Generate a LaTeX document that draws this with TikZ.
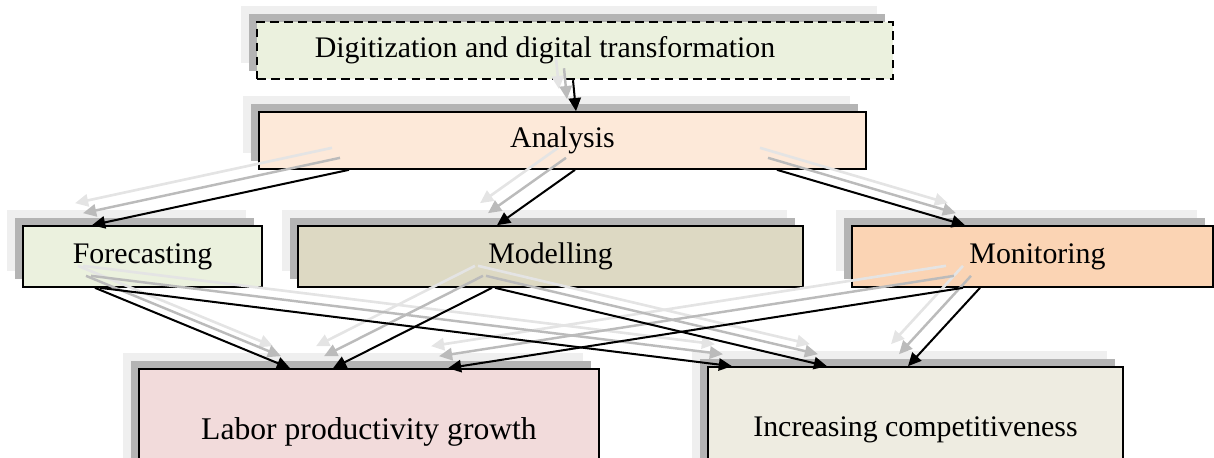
\documentclass[tikz,border=0pt]{standalone}
\usepackage{fontspec}
\setmainfont{Liberation Serif}
\usetikzlibrary{arrows.meta,calc,shadows}
\definecolor{greenBox}{HTML}{EBF1DE}
\definecolor{peachBox}{HTML}{FDE9D9}
\definecolor{tanBox}{HTML}{DDD9C3}
\definecolor{orangeBox}{HTML}{FBD4B4}
\definecolor{roseBox}{HTML}{F2DBDB}
\definecolor{greyBox}{HTML}{EEECE1}
\definecolor{shadowDark}{HTML}{B4B4B4}
\definecolor{shadowLight}{HTML}{EFEFEF}
\definecolor{edgeGreyDark}{HTML}{BBBBBB}
\definecolor{edgeGreyLight}{HTML}{E4E4E4}

\begin{document}
\begin{tikzpicture}[x=0.02cm, y=-0.02cm,
        every node/.style={font=\fontsize{17}{20}\selectfont}]
        \tikzstyle{boxStyle} = [draw=black, line width=0.95pt, inner sep=0pt,
            general shadow={fill=shadowLight, shadow xshift=-0.32cm, shadow yshift=0.32cm},
            general shadow={fill=shadowDark, shadow xshift=-0.16cm, shadow yshift=0.16cm}]
        \tikzstyle{edgeLight} = [draw=edgeGreyLight, line width=1.5pt, -{Triangle[length=7.5pt,width=7pt]}]
        \tikzstyle{edgeDark} = [draw=edgeGreyDark, line width=1.4pt, -{Triangle[length=7.5pt,width=7pt]}]
        \tikzstyle{edgeBlack} = [draw=black, line width=1.15pt, -{Triangle[length=7.5pt,width=7pt]}]
        \clip (0,0) rectangle (1214,457);
        \node[boxStyle, fill=greenBox, line width=1.4pt, dash pattern=on 5pt off 3pt,
              minimum width=12.72cm, minimum height=1.14cm] (digi) at (575,50.5) {\hspace*{-1.2cm}Digitization and digital transformation};
        \node[boxStyle, fill=peachBox, minimum width=12.14cm, minimum height=1.14cm] (ana) at (562.5,140.5) {Analysis};
        \node[boxStyle, fill=greenBox, minimum width=4.78cm, minimum height=1.22cm] (fore) at (142.5,256.5) {Forecasting};
        \node[boxStyle, fill=tanBox, minimum width=10.1cm, minimum height=1.22cm] (model) at (550.5,256.5) {Modelling};
        \node[boxStyle, fill=orangeBox, minimum width=7.22cm, minimum height=1.22cm] (monit) at (1032.5,256.5) {\hspace*{0.2cm}Monitoring};
        \node[boxStyle, fill=roseBox, minimum width=9.2cm, minimum height=2.52cm,
              font=\fontsize{18}{21}\selectfont] (labor) at (369,432) {Labor productivity growth};
        \node[boxStyle, fill=greyBox, minimum width=8.3cm, minimum height=2.52cm] (incr) at (915.5,430) {Increasing competitiveness};
        \foreach \sty/\sx/\sy in {edgeLight/-17/-22, edgeDark/-9/-12, edgeBlack/0/0}
            \foreach \from/\dfrom/\to/\dto in {digi/-2/ana/13.5, ana/-213.5/fore/-50.5,
                                               ana/12.5/model/-53.5, ana/214.5/monit/-67.5,
                                               fore/-47.5/labor/-79, fore/-42.5/incr/-183.5,
                                               model/-58.5/labor/-36, model/-55.5/incr/-88.5,
                                               monit/-69.5/labor/79, monit/-52.5/incr/-7.5}
                \draw[\sty, transform canvas={shift={(\sx,\sy)}}]
                    ($(\from.south)+(\dfrom,0)$) -- ($(\to.north)+(\dto,0)$);
    \end{tikzpicture}
\end{document}
